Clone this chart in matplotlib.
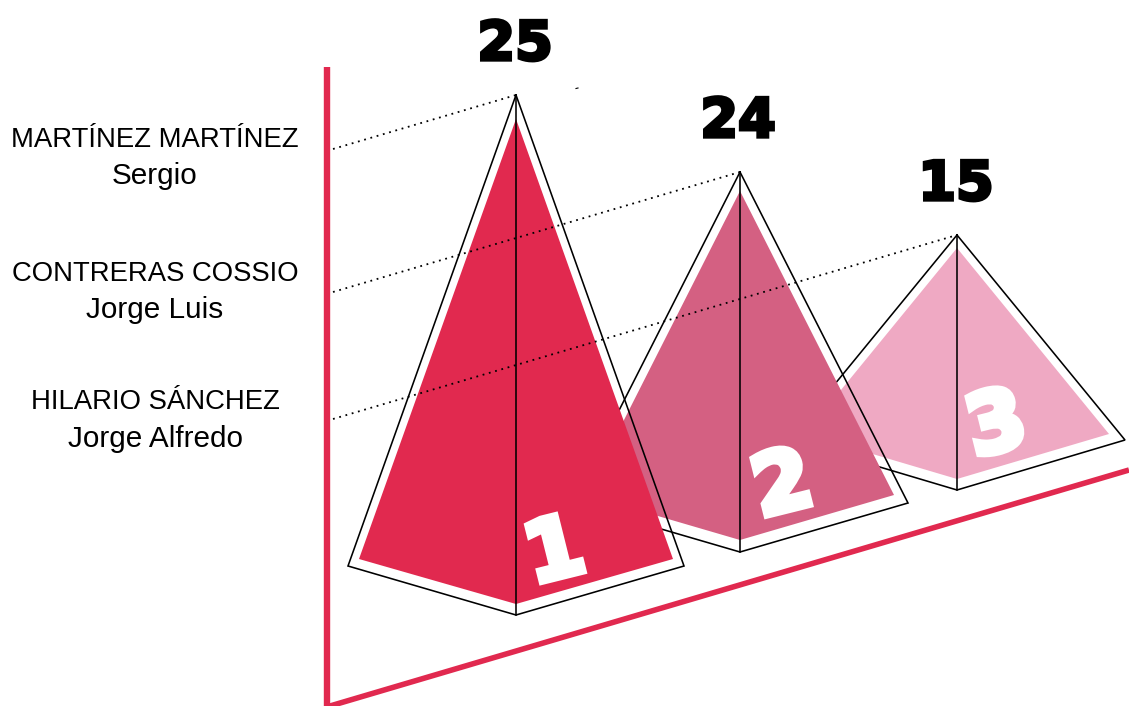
import matplotlib
matplotlib.use("Agg")
import matplotlib.pyplot as plt
import matplotlib.patheffects as pe

# datos
apellidos = ["MARTÍNEZ MARTÍNEZ", "CONTRERAS COSSIO", "HILARIO SÁNCHEZ"]
nombres = ["Sergio", "Jorge Luis", "Jorge Alfredo"]
valores = [25, 24, 15]
lugares = ["1", "2", "3"]

centro_x = [516, 740, 957]
punta_y = [95, 172, 235]
ala_y = [566, 503, 440]
fondo_y = [615, 552, 490]
ancho_ala = [168, 168, 168]
relleno_punta = [119, 191, 248]
relleno_ala = [559, 495, 434]
relleno_fondo = [604, 540, 479]
relleno_ancho = [157, 154, 152]
colores = ["#E1294F", "#D46082", "#EFA9C3"]

# lineas punteadas
guia_x = 333
guia_y = [149, 292, 419]

# textos (linea base)
apellido_y = [147, 281, 409]
nombre_y = [184, 318, 447]
valor_x = [515, 738, 956]
valor_y = [60, 137, 200]
lugar_x = [555, 783, 997]
lugar_y = [554, 487, 427]

ROJO = "#E1294F"

fig = plt.figure(figsize=(11.29, 7.06), dpi=100)
ax = fig.add_axes([0, 0, 1, 1])
ax.set_xlim(0, 1129)
ax.set_ylim(706, 0)
ax.axis("off")

# ejes
ax.plot([327, 327], [67, 706], color=ROJO, lw=4.6, solid_capstyle="butt", zorder=1)
ax.plot([330, 1129], [706, 470], color=ROJO, lw=4, solid_capstyle="butt", zorder=1)

# se dibuja de atras hacia adelante
for i in [2, 1, 0]:
    z = 10 + (2 - i) * 2
    x = centro_x[i]
    ax.fill(
        [x, x + relleno_ancho[i], x, x - relleno_ancho[i]],
        [relleno_punta[i], relleno_ala[i], relleno_fondo[i], relleno_ala[i]],
        color=colores[i], lw=0, zorder=z,
    )
    ax.plot(
        [x, x + ancho_ala[i], x, x - ancho_ala[i], x],
        [punta_y[i], ala_y[i], fondo_y[i], ala_y[i], punta_y[i]],
        color="black", lw=1.15, solid_joinstyle="miter", zorder=z + 1,
    )
    ax.plot([x, x], [punta_y[i], fondo_y[i]], color="black", lw=1.15, zorder=30)
    ax.plot(
        [guia_x, x], [guia_y[i], punta_y[i]],
        color="black", lw=1.3, linestyle=(0, (1, 2.6)), zorder=31,
    )
    ax.text(
        lugar_x[i], lugar_y[i], lugares[i], color="white", fontsize=60,
        family="DejaVu Sans", weight="bold", ha="center", va="center",
        rotation=14, rotation_mode="anchor", zorder=32,
        path_effects=[pe.withStroke(linewidth=5, foreground="white", joinstyle="miter")],
    )
    ax.text(
        valor_x[i], valor_y[i], str(valores[i]), color="black", fontsize=39,
        family="DejaVu Sans", weight="bold", ha="center", va="baseline",
        path_effects=[pe.withStroke(linewidth=2.4, foreground="black", joinstyle="miter")],
    )
    ax.text(155, apellido_y[i], apellidos[i], fontsize=19.8, family="Liberation Sans",
            ha="center", va="baseline", color="black")
    ax.text(155, nombre_y[i], nombres[i], fontsize=21.4, family="Liberation Sans",
            ha="center", va="baseline", color="black")

# puntito suelto arriba
ax.plot([576, 578], [88.5, 88], color="black", lw=0.8, zorder=31)

fig.savefig("out.png", dpi=100)
